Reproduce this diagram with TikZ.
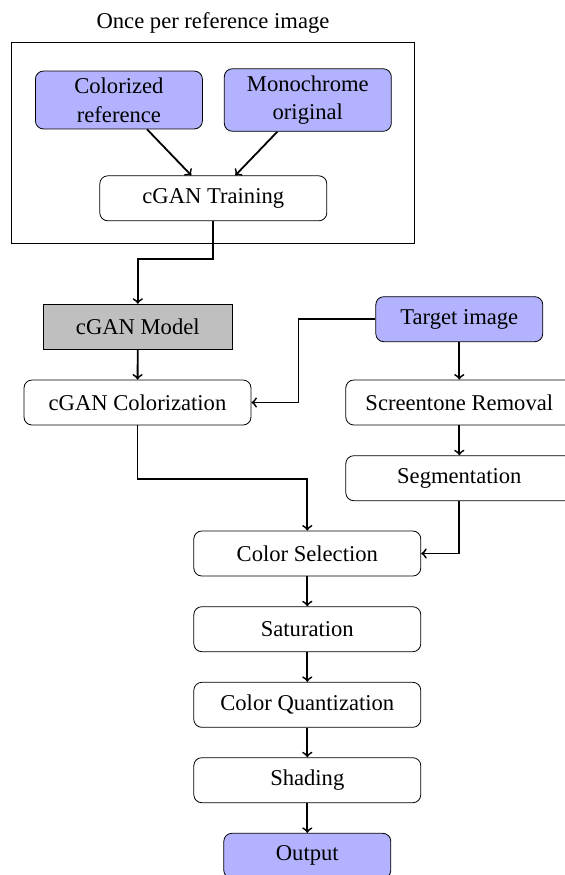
\documentclass[tikz,border=0pt]{standalone}
\usepackage{fontspec}
\setmainfont{Liberation Serif}
\usepackage{tikz}

\begin{document}
\begin{tikzpicture}[x=0.5pt,y=-0.5pt,
	font=\fontsize{11.3}{14.3}\selectfont,
	stepbox/.style={draw,rounded corners=4pt,minimum width=113.5pt,minimum height=22.5pt,line width=0.4pt},
	srcbox/.style={draw,rounded corners=4pt,fill=blue!30,minimum width=83.5pt,minimum height=22.5pt,align=center,line width=0.4pt},
	modelbox/.style={draw,fill=gray!50,minimum width=94.5pt,minimum height=22.5pt,line width=0.4pt},
	flow/.style={->,line width=0.9pt}]
	\useasboundingbox (0,0) rectangle (564,875);
	
	%Once per reference image
	\node (title) at (213,23) {Once per reference image};
	\draw [line width=0.4pt] (11.7,42.7) rectangle (414.3,243.7);
	\node [srcbox] (colref) at (118.9,100) {Colorized\\reference};
	\node [srcbox] (mono) at (307.8,100) {Monochrome\\original};
	\node [stepbox] (train) at (213.3,198.3) {cGAN Training};
	
	%Left column
	\node [modelbox] (model) at (137.8,326.7) {cGAN Model};
	\node [stepbox] (colz) at (137.5,402.5) {cGAN Colorization};
	
	%Right column
	\node [srcbox] (target) at (459.3,319.2) {Target image};
	\node [stepbox] (screen) at (459.3,402.5) {Screentone Removal};
	\node [stepbox] (seg) at (459.3,478.2) {Segmentation};
	
	%Main chain
	\node [stepbox] (colsel) at (307.3,553.5) {Color Selection};
	\node [stepbox] (sat) at (307.3,629.2) {Saturation};
	\node [stepbox] (quant) at (307.3,704.8) {Color Quantization};
	\node [stepbox] (shade) at (307.3,780.2) {Shading};
	\node [srcbox] (out) at (307.3,855.8) {Output};
	
	%Connectors
	\draw [flow] (colref) -- (train);
	\draw [flow] (mono) -- (train);
	\draw [flow] (train.south) -- ++(0,38) -| (model.north);
	\draw [flow] (model) -- (colz);
	\draw [flow] (target.west) -- ++(-77,0) |- (colz.east);
	\draw [flow] (target) -- (screen);
	\draw [flow] (screen) -- (seg);
	\draw [flow] (colz.south) -- ++(0,53.5) -| (colsel.north);
	\draw [flow] (seg.south) |- (colsel.east);
	\draw [flow] (colsel) -- (sat);
	\draw [flow] (sat) -- (quant);
	\draw [flow] (quant) -- (shade);
	\draw [flow] (shade) -- (out);
	
\end{tikzpicture}
\end{document}
